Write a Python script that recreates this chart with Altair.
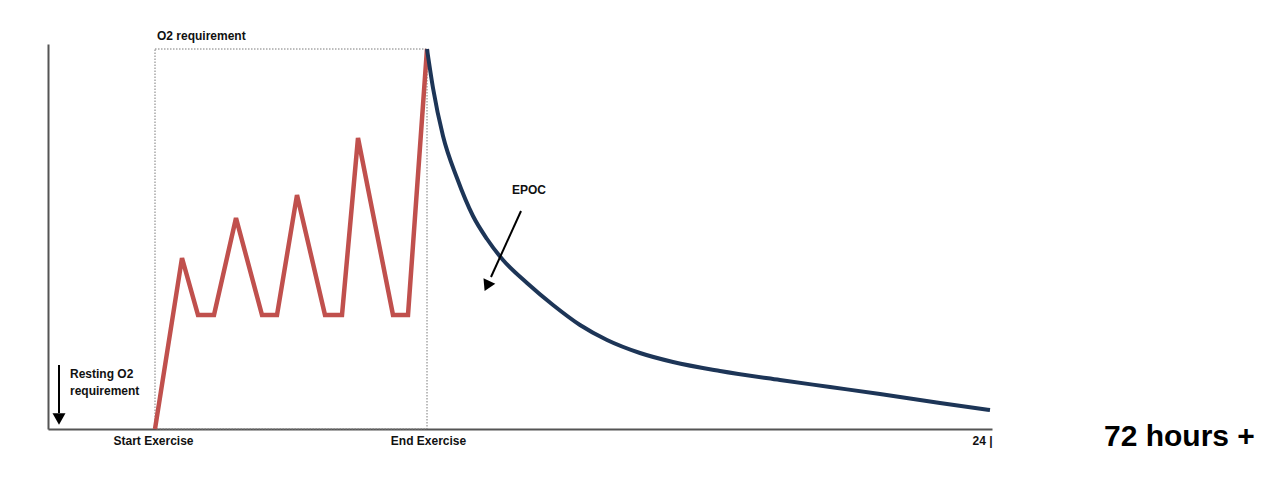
import altair as alt
import pandas as pd

# Exercise phase (red): time position, O2 level
ex_t = [155, 182, 198, 214, 236, 262, 277, 297, 325, 342, 358, 393, 408, 427]
ex_o2 = [0, 171, 114, 114, 211, 114, 114, 234, 114, 114, 291, 114, 114, 380]

# Recovery / EPOC phase (blue)
rec_t = [427, 433, 443, 457, 473, 487, 503, 527, 553, 580, 607, 640, 673, 720,
         780, 830, 880, 940, 990]
rec_o2 = [380, 341, 293, 251, 213, 190, 169, 146, 124, 104, 89, 76, 67, 58,
          49, 42, 35, 26, 19]

# O2 requirement box
box_t = [155]
box_t2 = [427]
box_o2 = [0]
box_o22 = [380]

# x-axis tick labels
tick_vals = [153, 428, 982]
tick_text = ["Start Exercise", "End Exercise", "24 |"]

# annotations
ann_text = ["O2 requirement", "Resting O2", "requirement", "EPOC"]
ann_t = [157, 70, 70, 512]
ann_o2 = [389, 51, 34, 235]

big_text = ["72 hours +"]
big_t = [1104]
big_o2 = [-8]

# arrows
arrow_id = ["rest", "rest", "epoc", "epoc"]
arrow_t = [59, 59, 521, 491]
arrow_o2 = [64, 16, 218, 152]
head_t = [59, 487]
head_o2 = [10, 143]
head_shape = ["triangle-down", "triangle-up"]
head_angle = [0, 205]

X_DOM = [48, 992]
Y_DOM = [0, 385]
FONT = "Liberation Sans"

xs = alt.Scale(domain=X_DOM, nice=False, zero=False)
ys = alt.Scale(domain=Y_DOM, nice=False, zero=False)

label_expr = " : ".join(
    f"datum.value == {v} ? '{t}'" for v, t in zip(tick_vals[:-1], tick_text[:-1])
) + f" : '{tick_text[-1]}'"

x_axis = alt.Axis(values=tick_vals, labelExpr=label_expr, ticks=False, grid=False,
                  title=None, domainColor="#555555", domainWidth=2,
                  labelFont=FONT, labelFontSize=12, labelFontWeight="bold",
                  labelColor="#111111", labelPadding=6, labelFlush=False,
                  labelOverlap=False)
y_axis = alt.Axis(labels=False, ticks=False, grid=False, title=None,
                  domainColor="#555555", domainWidth=2)

ex_df = pd.DataFrame({"t": ex_t, "o2": ex_o2})
rec_df = pd.DataFrame({"t": rec_t, "o2": rec_o2})
box_df = pd.DataFrame({"t": box_t, "t2": box_t2, "o2": box_o2, "o22": box_o22})
ann_df = pd.DataFrame({"text": ann_text, "t": ann_t, "o2": ann_o2})
big_df = pd.DataFrame({"text": big_text, "t": big_t, "o2": big_o2})
arr_df = pd.DataFrame({"id": arrow_id, "t": arrow_t, "o2": arrow_o2})
head_df = pd.DataFrame({"t": head_t, "o2": head_o2, "shape": head_shape, "angle": head_angle})

box = alt.Chart(box_df).mark_rect(fill=None, stroke="#7a7a7a", strokeWidth=1,
                                  strokeDash=[1.5, 1.5]).encode(
    x=alt.X("t:Q", scale=xs, axis=x_axis),
    x2="t2:Q",
    y=alt.Y("o2:Q", scale=ys, axis=y_axis),
    y2="o22:Q",
)

red = alt.Chart(ex_df).mark_line(color="#c0504d", strokeWidth=4.5,
                                  strokeJoin="miter").encode(
    x=alt.X("t:Q", scale=xs), y=alt.Y("o2:Q", scale=ys), order="t:Q"
)

blue = alt.Chart(rec_df).mark_line(color="#1d3557", strokeWidth=4,
                                   interpolate="monotone").encode(
    x=alt.X("t:Q", scale=xs), y=alt.Y("o2:Q", scale=ys), order="t:Q"
)

ann = alt.Chart(ann_df).mark_text(font=FONT, fontSize=12, fontWeight="bold",
                                  align="left", baseline="alphabetic",
                                  color="#111111").encode(
    x=alt.X("t:Q", scale=xs), y=alt.Y("o2:Q", scale=ys), text="text:N"
)

big = alt.Chart(big_df).mark_text(font=FONT, fontSize=30, fontWeight="bold",
                                  align="left", baseline="middle",
                                  color="#000000").encode(
    x=alt.X("t:Q", scale=xs), y=alt.Y("o2:Q", scale=ys), text="text:N"
)

arrows = alt.Chart(arr_df).mark_line(color="#000000", strokeWidth=2).encode(
    x=alt.X("t:Q", scale=xs), y=alt.Y("o2:Q", scale=ys), detail="id:N"
)

heads = alt.Chart(head_df).mark_point(filled=True, color="#000000", size=170,
                                      opacity=1).encode(
    x=alt.X("t:Q", scale=xs), y=alt.Y("o2:Q", scale=ys),
    shape=alt.Shape("shape:N", scale=None, legend=None),
    angle=alt.Angle("angle:Q", scale=None),
)

chart = alt.layer(box, red, blue, arrows, heads, ann, big).properties(
    width=944, height=385,
    autosize=alt.AutoSizeParams(type="none"),
    padding={"left": 40, "top": 36, "right": 280, "bottom": 57},
    background="white",
).configure_view(stroke=None)

chart.save("out.html", embed_options={"renderer": "svg", "actions": False})
